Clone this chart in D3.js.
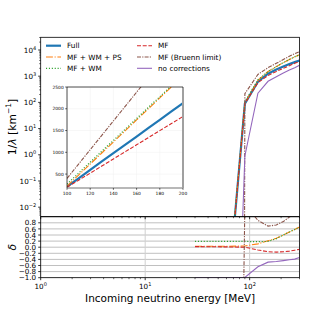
<!DOCTYPE html>
<html>
<head>
<meta charset="utf-8">
<script src="https://cdn.jsdelivr.net/npm/d3@7"></script>
<style>
  body { margin: 0; background: #fff; }
  text { font-family: "DejaVu Sans", sans-serif; fill: #000; }
</style>
</head>
<body>
<svg id="chart" width="333" height="312"></svg>
<script>
// energies of the main panels [MeV]
const energy = [30, 60, 90, 120, 150, 180, 210, 240, 270, 300];

// 1/lambda [km^-1], upper panel
const rateFull     = [1e-9, 1e-6, 90, 620, 1250, 1800, 2350, 2900, 3450, 3950];
const rateMfWmPs   = [1.03e-9, 1.03e-6, 94, 688, 1513, 2322, 3290, 4350, 5451, 6557];
const rateMfWm     = [1.19e-9, 1.19e-6, 107, 732, 1488, 2304, 3290, 4350, 5451, 6557];
const rateMf       = [1.02e-9, 1.01e-6, 90, 564, 1063, 1512, 1998, 2523, 3105, 3674];
const rateBruenn   = [-1e-7, -4e-5, 215, 1166, 2113, 3114, 4324, 5771, 7245, 8690];
const rateNoCorr   = [0, 1e-20, 0.9, 223, 638, 954, 1316, 1711, 2105, 2607];

// relative difference to Full, lower panel
const deltaMfWmPs  = [0.03, 0.03, 0.04, 0.11, 0.21, 0.29, 0.40, 0.50, 0.58, 0.66];
const deltaMfWm    = [0.19, 0.19, 0.19, 0.18, 0.19, 0.28, 0.40, 0.50, 0.58, 0.66];
const deltaMf      = [0.02, 0.01, 0.0, -0.09, -0.15, -0.16, -0.15, -0.13, -0.10, -0.07];
const deltaBruenn  = [-101, -41, 1.39, 0.88, 0.69, 0.73, 0.84, 0.99, 1.10, 1.20];
const deltaNoCorr  = [-1, -1, -0.99, -0.64, -0.49, -0.47, -0.44, -0.41, -0.39, -0.34];

// inset (linear axes)
const insetEnergy  = [100, 110, 120, 130, 140, 150, 160, 170, 180, 190, 200];
const insetFull    = [210, 400, 595, 790, 980, 1170, 1360, 1555, 1745, 1940, 2130];
const insetMfWmPs  = [225, 478, 731, 984, 1237, 1490, 1743, 1996, 2249, 2502, 2755];
const insetMfWm    = [270, 521, 772, 1023, 1274, 1525, 1776, 2027, 2278, 2529, 2780];
const insetMf      = [196, 359, 521, 684, 847, 1010, 1172, 1335, 1498, 1660, 1823];
const insetBruenn  = [400, 730, 1060, 1390, 1720, 2050, 2380, 2710, 3040, 3370, 3700];

const yTopTicks    = [1e-2, 1e-1, 1e0, 1e1, 1e2, 1e3, 1e4];
const xTicks       = [1, 10, 100];
const deltaTicks   = [-1.0, -0.8, -0.6, -0.4, -0.2, 0.0, 0.2, 0.4, 0.6, 0.8];
const insetXTicks  = [100, 120, 140, 160, 180, 200];
const insetYTicks  = [500, 1000, 1500, 2000, 2500];

const styles = {
  full:   {label: 'Full',                 color: '#1f77b4', width: 2.2, dash: null},
  mfwmps: {label: 'MF + WM + PS',         color: '#ff7f0e', width: 1.1, dash: '6.9,1.7,1.1,1.7'},
  mfwm:   {label: 'MF + WM',              color: '#2ca02c', width: 1.2, dash: '1.1,1.8'},
  mf:     {label: 'MF',                   color: '#d62728', width: 1.1, dash: '4,1.7'},
  bruenn: {label: 'MF (Bruenn limit)',    color: '#8c564b', width: 1.1, dash: '4,1.2,1.2,1.2'},
  nocorr: {label: 'no corrections',       color: '#9467bd', width: 1.1, dash: null}
};

const svg = d3.select('#chart');

const L = 40.7, R = 299.5, T = 37.3, MID = 216.7, B = 277.7;
const x = d3.scaleLog().domain([1, 300]).range([L, R]);
const yTop = d3.scaleLog().domain([4.33e-3, 3.05e4]).range([MID, T]);
const yBot = d3.scaleLinear().domain([-1, 1]).range([B, MID]);

const defs = svg.append('defs');
defs.append('clipPath').attr('id', 'clipTop')
    .append('rect').attr('x', L).attr('y', T).attr('width', R - L).attr('height', MID - T);
defs.append('clipPath').attr('id', 'clipBot')
    .append('rect').attr('x', L).attr('y', MID).attr('width', R - L).attr('height', B - MID);

function drawLine(g, xs, ys, st, lineGen) {
  const path = g.append('path')
      .datum(xs.map((e, i) => [e, ys[i]]))
      .attr('d', lineGen)
      .attr('fill', 'none')
      .attr('stroke', st.color)
      .attr('stroke-width', st.width);
  if (st.dash) path.attr('stroke-dasharray', st.dash);
}

// upper panel (non-positive values clipped like a log axis does)
const topLine = d3.line().x(d => x(d[0])).y(d => yTop(Math.max(d[1], 1e-300)));
const gTop = svg.append('g').attr('clip-path', 'url(#clipTop)');
drawLine(gTop, energy, rateFull, styles.full, topLine);
drawLine(gTop, energy, rateMfWmPs, styles.mfwmps, topLine);
drawLine(gTop, energy, rateMfWm, styles.mfwm, topLine);
drawLine(gTop, energy, rateMf, styles.mf, topLine);
drawLine(gTop, energy, rateBruenn, styles.bruenn, topLine);
drawLine(gTop, energy, rateNoCorr, styles.nocorr, topLine);

// lower panel grid
const gBot = svg.append('g').attr('clip-path', 'url(#clipBot)');
gBot.selectAll('.hgrid').data(deltaTicks.concat([1.0])).join('line')
    .attr('x1', L).attr('x2', R)
    .attr('y1', d => yBot(d)).attr('y2', d => yBot(d))
    .attr('stroke', '#b0b0b0').attr('stroke-width', 0.8);
gBot.selectAll('.vgrid').data(xTicks).join('line')
    .attr('x1', d => x(d)).attr('x2', d => x(d))
    .attr('y1', MID).attr('y2', B)
    .attr('stroke', '#d0d0d0').attr('stroke-width', 1);

const botLine = d3.line().x(d => x(d[0])).y(d => yBot(d[1]));
drawLine(gBot, energy, deltaMfWmPs, styles.mfwmps, botLine);
drawLine(gBot, energy, deltaMfWm, styles.mfwm, botLine);
drawLine(gBot, energy, deltaMf, styles.mf, botLine);
drawLine(gBot, energy, deltaBruenn, styles.bruenn, botLine);
drawLine(gBot, energy, deltaNoCorr, styles.nocorr, botLine);

// spines
[[L, T, R - L, MID - T], [L, MID, R - L, B - MID]].forEach(r => {
  svg.append('rect').attr('x', r[0]).attr('y', r[1]).attr('width', r[2]).attr('height', r[3])
      .attr('fill', 'none').attr('stroke', '#000').attr('stroke-width', 0.8);
});

// x ticks (both panels)
const minorX = [];
[1, 10, 100].forEach(dec => { for (let k = 2; k <= 9; k++) if (dec * k <= 300) minorX.push(dec * k); });
[MID, B].forEach(yy => {
  svg.selectAll(null).data(xTicks).join('line')
      .attr('x1', d => x(d)).attr('x2', d => x(d)).attr('y1', yy).attr('y2', yy + 2.5)
      .attr('stroke', '#000').attr('stroke-width', 0.8);
  svg.selectAll(null).data(minorX).join('line')
      .attr('x1', d => x(d)).attr('x2', d => x(d)).attr('y1', yy).attr('y2', yy + 1.5)
      .attr('stroke', '#000').attr('stroke-width', 0.6);
});

function powLabel(sel, exp, size) {
  sel.append('tspan').text('10');
  sel.append('tspan').attr('dy', -size * 0.42).attr('font-size', size * 0.7)
      .text(exp < 0 ? '\u2212' + (-exp) : String(exp));
}

svg.selectAll(null).data(xTicks).join('text')
    .attr('x', d => x(d)).attr('y', 289).attr('text-anchor', 'middle').attr('font-size', 7.2)
    .each(function(d) { powLabel(d3.select(this), Math.round(Math.log10(d)), 7.2); });

// y ticks upper
const minorY = [];
for (let e = -3; e <= 4; e++) for (let k = 2; k <= 9; k++) {
  const v = k * Math.pow(10, e);
  if (v > 4.33e-3 && v < 3.05e4) minorY.push(v);
}
svg.selectAll(null).data(yTopTicks).join('line')
    .attr('x1', L - 2.5).attr('x2', L).attr('y1', d => yTop(d)).attr('y2', d => yTop(d))
    .attr('stroke', '#000').attr('stroke-width', 0.8);
svg.selectAll(null).data(minorY).join('line')
    .attr('x1', L - 1.5).attr('x2', L).attr('y1', d => yTop(d)).attr('y2', d => yTop(d))
    .attr('stroke', '#000').attr('stroke-width', 0.6);
svg.selectAll(null).data(yTopTicks).join('text')
    .attr('x', L - 4.5).attr('y', d => yTop(d) + 2.6).attr('text-anchor', 'end').attr('font-size', 7.2)
    .each(function(d) { powLabel(d3.select(this), Math.round(Math.log10(d)), 7.2); });

// y ticks lower (labels are packed tightly, as in the original)
svg.selectAll(null).data(deltaTicks).join('line')
    .attr('x1', L - 2.5).attr('x2', L).attr('y1', d => yBot(d)).attr('y2', d => yBot(d))
    .attr('stroke', '#000').attr('stroke-width', 0.8);
svg.selectAll(null).data(deltaTicks).join('text')
    .attr('x', L - 4.5).attr('y', d => yBot(d) + 2.6).attr('text-anchor', 'end').attr('font-size', 7.2)
    .text(d => d3.format('.1f')(d).replace('-', '\u2212'));

// axis labels
const yl = svg.append('text').attr('transform', `translate(15.5,${(T + MID) / 2}) rotate(-90)`)
    .attr('text-anchor', 'middle').attr('font-size', 10.8);
yl.append('tspan').text('1/');
yl.append('tspan').attr('font-style', 'italic').text('\u03bb');
yl.append('tspan').text(' [km');
yl.append('tspan').attr('dy', -4.5).attr('font-size', 7.5).text('\u22121');
yl.append('tspan').attr('dy', 4.5).text(']');

svg.append('text').attr('transform', `translate(15.5,${(MID + B) / 2}) rotate(-90)`)
    .attr('text-anchor', 'middle').attr('font-size', 10.8).attr('font-style', 'italic').text('\u03b4');

svg.append('text').attr('x', (L + R) / 2).attr('y', 302).attr('text-anchor', 'middle')
    .attr('font-size', 10.5).text('Incoming neutrino energy [MeV]');

// legend
const legendItems = [
  [styles.full, 46, 45.7], [styles.mfwmps, 46, 57], [styles.mfwm, 46, 68.3],
  [styles.mf, 137, 45.7], [styles.bruenn, 137, 57], [styles.nocorr, 137, 68.3]
];
legendItems.forEach(([st, lx, ly]) => {
  const ln = svg.append('line').attr('x1', lx).attr('x2', lx + 15).attr('y1', ly).attr('y2', ly)
      .attr('stroke', st.color).attr('stroke-width', st.width);
  if (st.dash) ln.attr('stroke-dasharray', st.dash);
  svg.append('text').attr('x', lx + 21).attr('y', ly + 2.6).attr('font-size', 7.3).text(st.label);
});

// inset
const IL = 67, IR = 183, IT = 87, IB = 188;
const xi = d3.scaleLinear().domain([100, 200]).range([IL, IR]);
const yi = d3.scaleLinear().domain([180, 2500]).range([IB, IT]);
defs.append('clipPath').attr('id', 'clipInset')
    .append('rect').attr('x', IL).attr('y', IT).attr('width', IR - IL).attr('height', IB - IT);
svg.append('rect').attr('x', IL).attr('y', IT).attr('width', IR - IL).attr('height', IB - IT).attr('fill', '#fff');
const gIn = svg.append('g').attr('clip-path', 'url(#clipInset)');
gIn.selectAll('.ivg').data(insetXTicks).join('line')
    .attr('x1', d => xi(d)).attr('x2', d => xi(d)).attr('y1', IT).attr('y2', IB)
    .attr('stroke', '#f2f2f2').attr('stroke-width', 0.6);
gIn.selectAll('.ihg').data(insetYTicks).join('line')
    .attr('x1', IL).attr('x2', IR).attr('y1', d => yi(d)).attr('y2', d => yi(d))
    .attr('stroke', '#f2f2f2').attr('stroke-width', 0.6);
const inLine = d3.line().x(d => xi(d[0])).y(d => yi(d[1]));
drawLine(gIn, insetEnergy, insetFull, styles.full, inLine);
drawLine(gIn, insetEnergy, insetMfWmPs, styles.mfwmps, inLine);
drawLine(gIn, insetEnergy, insetMfWm, styles.mfwm, inLine);
drawLine(gIn, insetEnergy, insetMf, styles.mf, inLine);
drawLine(gIn, insetEnergy, insetBruenn, styles.bruenn, inLine);

svg.append('line').attr('x1', IR).attr('x2', IR).attr('y1', IT).attr('y2', IB)
    .attr('stroke', '#a0a0a0').attr('stroke-width', 2);
svg.append('line').attr('x1', IL).attr('x2', IR).attr('y1', IB).attr('y2', IB)
    .attr('stroke', '#a0a0a0').attr('stroke-width', 1.6);
svg.append('path').attr('d', `M${IL},${IB}V${IT}H${IR}`).attr('fill', 'none')
    .attr('stroke', '#000').attr('stroke-width', 0.7);

svg.selectAll(null).data(insetXTicks).join('line')
    .attr('x1', d => xi(d)).attr('x2', d => xi(d)).attr('y1', IB).attr('y2', IB + 1.8)
    .attr('stroke', '#000').attr('stroke-width', 0.6);
svg.selectAll(null).data(insetXTicks).join('text')
    .attr('x', d => xi(d)).attr('y', IB + 7).attr('text-anchor', 'middle').attr('font-size', 4.4)
    .text(d => d);
svg.selectAll(null).data(insetYTicks).join('line')
    .attr('x1', IL - 1.8).attr('x2', IL).attr('y1', d => yi(d)).attr('y2', d => yi(d))
    .attr('stroke', '#000').attr('stroke-width', 0.6);
svg.selectAll(null).data(insetYTicks).join('text')
    .attr('x', IL - 3.3).attr('y', d => yi(d) + 1.6).attr('text-anchor', 'end').attr('font-size', 4.4)
    .text(d => d);
</script>
</body>
</html>
